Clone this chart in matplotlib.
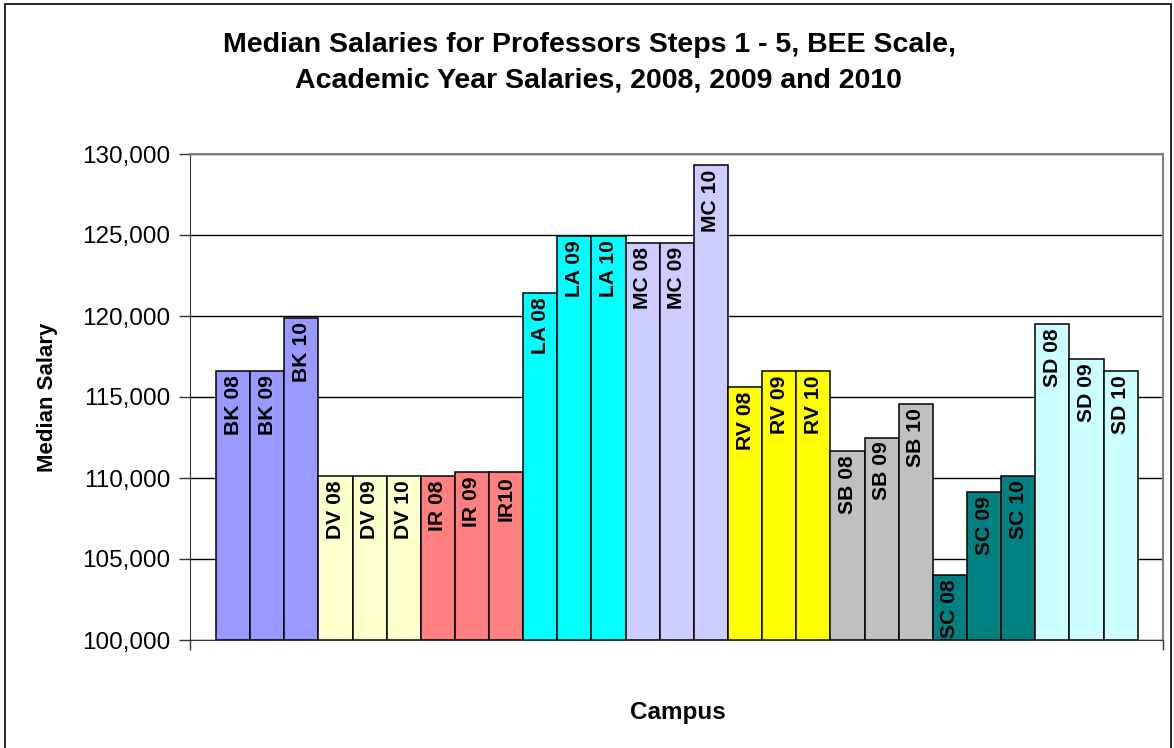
import numpy as np
import matplotlib
matplotlib.use('Agg')
import matplotlib.pyplot as plt
import matplotlib.patches as mpatches

plt.rcParams['font.family'] = ['Liberation Sans', 'DejaVu Sans']

# data
campuses = ['BK', 'DV', 'IR', 'LA', 'MC', 'RV', 'SB', 'SC', 'SD']
years    = ['08', '09', '10']
salaries = [
    [116600, 116600, 119900],   # BK
    [110100, 110100, 110100],   # DV
    [110100, 110350, 110350],   # IR
    [121400, 124950, 124950],   # LA
    [124500, 124500, 129300],   # MC
    [115600, 116600, 116600],   # RV
    [111650, 112500, 114550],   # SB
    [104000, 109150, 110150],   # SC
    [119500, 117350, 116600],   # SD
]
campus_colors = ['#9999FF', '#FFFFCC', '#FF8080', '#00FFFF', '#CCCCFF',
                 '#FFFF00', '#C0C0C0', '#008080', '#CCFFFF']
bar_labels = ['BK 08', 'BK 09', 'BK 10', 'DV 08', 'DV 09', 'DV 10',
              'IR 08', 'IR 09', 'IR10', 'LA 08', 'LA 09', 'LA 10',
              'MC 08', 'MC 09', 'MC 10', 'RV 08', 'RV 09', 'RV 10',
              'SB 08', 'SB 09', 'SB 10', 'SC 08', 'SC 09', 'SC 10',
              'SD 08', 'SD 09', 'SD 10']
yticks = [100000, 105000, 110000, 115000, 120000, 125000, 130000]

values = [v for row in salaries for v in row]
colors = [c for c in campus_colors for _ in years]
xpos = np.arange(len(values))

fig = plt.figure(figsize=(11.74, 7.48), dpi=100)
ax = fig.add_axes([190/1174, 1 - 640/748, 973/1174, 486/748])

ax.bar(xpos, [v - 100000 for v in values], bottom=100000, width=1.0,
       color=colors, edgecolor='black', linewidth=1.1, zorder=3)

for x, v, lab in zip(xpos, values, bar_labels):
    ax.annotate(lab, (x, v), xytext=(0, -3), textcoords='offset points',
                rotation=90, ha='center', va='top', fontsize=15.2,
                fontweight='bold', color='black', zorder=4)

ax.set_ylim(100000, 130000)
ax.set_xlim(-1.26, 27.24)
ax.set_yticks(yticks)
ax.set_yticklabels(['{:,}'.format(t) for t in yticks], fontsize=17.5)
ax.set_xticks([-1.26, 27.24])
ax.set_xticklabels(['', ''])
ax.tick_params(axis='y', length=8, width=1, color='#333333', pad=6)
ax.tick_params(axis='x', length=7, width=1, color='#333333')
ax.yaxis.grid(True, color='black', linewidth=1, zorder=0)
ax.set_axisbelow(True)

for side in ['top', 'right']:
    ax.spines[side].set_color('#808080')
    ax.spines[side].set_linewidth(1.5)
ax.spines['left'].set_color('#333333')
ax.spines['bottom'].set_color('#333333')

ax.set_ylabel('Median Salary', fontsize=16, fontweight='bold')
ax.yaxis.set_label_coords(-132/973, 0.5)
fig.text(678/1174, 1 - 713/748, 'Campus', fontsize=17.5, fontweight='bold',
         ha='center', va='center')

fig.text(590/1174, 1 - 45/748, 'Median Salaries for Professors Steps 1 - 5, BEE Scale,',
         fontsize=20.5, fontweight='bold', ha='center', va='center')
fig.text(598/1174, 1 - 80/748, 'Academic Year Salaries, 2008, 2009 and 2010',
         fontsize=20.5, fontweight='bold', ha='center', va='center')

# chart area border
fig.patches.append(mpatches.Rectangle((5/1174, -0.05), 1166/1174, 1 - 4/748 + 0.05,
                                      transform=fig.transFigure, fill=False,
                                      edgecolor='black', linewidth=1.2))

fig.savefig('out.png', dpi=100)
